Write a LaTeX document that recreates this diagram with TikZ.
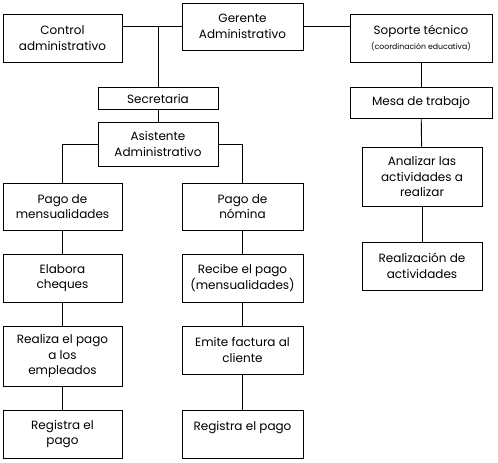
\documentclass[tikz,border=0pt]{standalone}
\usepackage{fontspec}
\setmainfont{Poppins}
\begin{document}
\begin{tikzpicture}[x=0.75pt,y=-0.75pt]
		\tikzstyle{box}=[rectangle,draw=black,line width=0.7pt,align=center,inner sep=0pt,font=\fontsize{9}{11.8}\selectfont]
		\tikzstyle{wA}=[minimum width=89.25pt]
		\tikzstyle{wB}=[minimum width=90.75pt]
		\useasboundingbox (0,0) rectangle (498,462);
		\begin{scope}
		\node[box,wA,minimum height=36pt] (ctrl) at (62.5,38)   {Control\\administrativo};
		\node[box,wB,minimum height=35.25pt] (ger) at (242.5,26.5) {Gerente\\Administrativo};
		\node[box,minimum width=106.5pt,minimum height=36pt] (sop) at (421,38) {Soporte técnico\\{\fontsize{5.8}{8}\selectfont(coordinación educativa)}};
		\node[box,minimum width=90pt,minimum height=16.5pt] (sec) at (158,98.5) {Secretaria};
		\node[box,minimum width=90pt,minimum height=33pt] (asi) at (158,144) {Asistente\\Administrativo};
		\node[box,minimum width=106.5pt,minimum height=23.25pt] (mesa) at (421,102.5) {Mesa de trabajo};
		\node[box,minimum width=90pt,minimum height=44.25pt] (anal) at (422,176.5) {Analizar las\\actividades a\\realizar};
		\node[box,minimum width=90pt,minimum height=36pt] (real) at (422,266) {Realización de\\actividades};
		\node[box,wA,minimum height=35.25pt] (pmen) at (62.5,206.5) {Pago de\\mensualidades};
		\node[box,wB,minimum height=35.25pt] (pnom) at (242.5,206.5) {Pago de\\nómina};
		\node[box,wA,minimum height=36pt] (elab) at (62.5,278) {Elabora\\cheques};
		\node[box,wB,minimum height=36pt] (reci) at (242.5,278) {Recibe el pago\\(mensualidades)};
		\node[box,wA,minimum height=45pt] (rea) at (62.5,356) {Realiza el pago\\a los\\empleados};
		\node[box,wB,minimum height=36pt] (emi) at (242.5,350) {Emite factura al\\cliente};
		\node[box,wA,minimum height=36pt] (reg1) at (62.5,434) {Registra el\\pago};
		\node[box,wB,minimum height=36pt] (reg2) at (242.5,434) {Registra el pago\\~};
		\end{scope}
		
		\path[-,line width=0.7pt]
		(ger.west) edge (ger.west -| ctrl.east)
		(sec.north) edge (sec.north |- ger.west)
		(ger.east) edge (ger.east -| sop.west)
		(sec) edge (asi)
		(sop) edge (mesa)
		(mesa) edge (anal)
		(anal) edge (real)
		(pmen) edge (elab)
		(elab) edge (rea)
		(rea) edge (reg1)
		(pnom) edge (reci)
		(reci) edge (emi)
		(emi) edge (reg2)
		;
		\draw[line width=0.7pt] (asi.west) -| (pmen.north);
		\draw[line width=0.7pt] (asi.east) -| (pnom.north);
		\end{tikzpicture}
\end{document}
